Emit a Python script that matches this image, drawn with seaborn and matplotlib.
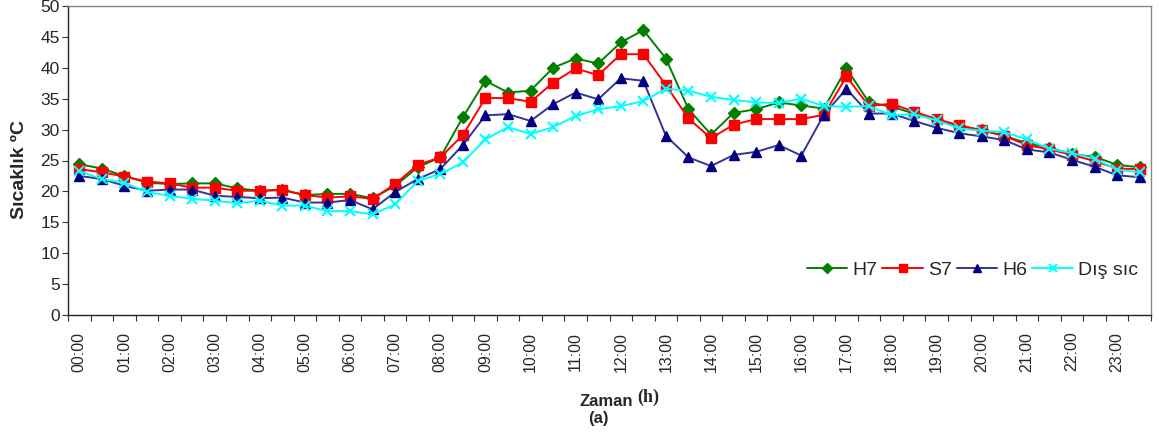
import matplotlib
matplotlib.use("Agg")
import matplotlib.pyplot as plt
from matplotlib import font_manager
import seaborn as sns
import pandas as pd
import numpy as np

times = [f"{h:02d}:{m:02d}" for h in range(24) for m in (0, 30)]
tick_labels = [f"{h:02d}:00" for h in range(24)]

h7 = [24.4, 23.7, 22.5, 21.4, 21.2, 21.3, 21.3, 20.5, 20.1, 20.3, 19.4, 19.6, 19.6, 18.9, 20.9,
      23.9, 25.5, 32.0, 37.9, 36.0, 36.3, 40.0, 41.5, 40.7, 44.1, 46.1, 41.5, 33.3, 29.2, 32.7,
      33.3, 34.4, 33.9, 33.4, 39.9, 34.4, 33.7, 32.6, 31.6, 30.6, 29.9, 29.0, 27.8, 27.1, 26.0,
      25.6, 24.3, 23.9]
s7 = [23.6, 23.1, 22.4, 21.6, 21.3, 20.6, 20.6, 20.1, 20.1, 20.2, 19.4, 19.0, 19.2, 18.8, 21.2,
      24.3, 25.5, 29.1, 35.1, 35.1, 34.5, 37.6, 39.9, 38.8, 42.2, 42.2, 37.2, 31.8, 28.6, 30.8,
      31.7, 31.7, 31.7, 32.4, 38.6, 33.8, 34.2, 32.9, 31.7, 30.7, 29.9, 29.0, 27.5, 26.8, 25.9,
      24.9, 23.7, 23.6]
h6 = [22.5, 22.0, 20.9, 20.1, 20.3, 20.3, 19.3, 19.1, 18.9, 19.0, 18.2, 18.2, 18.6, 17.1, 19.9,
      22.0, 23.6, 27.5, 32.3, 32.5, 31.4, 34.1, 36.0, 34.9, 38.3, 37.9, 29.0, 25.5, 24.1, 25.9,
      26.4, 27.5, 25.8, 32.4, 36.6, 32.6, 32.6, 31.4, 30.3, 29.4, 28.9, 28.3, 26.8, 26.3, 25.1,
      24.0, 22.6, 22.3]
dis = [23.3, 22.0, 21.4, 19.9, 19.3, 18.8, 18.5, 18.1, 18.5, 17.7, 17.7, 16.8, 16.8, 16.3, 17.9,
       21.7, 22.8, 24.7, 28.4, 30.4, 29.3, 30.4, 32.2, 33.3, 33.8, 34.6, 36.6, 36.3, 35.3, 34.8,
       34.4, 34.3, 35.0, 33.8, 33.7, 33.8, 32.3, 32.5, 31.5, 30.2, 29.8, 29.6, 28.4, 26.9, 26.2,
       25.3, 23.5, 23.1]

series_names = ["H7", "S7", "H6", "Dış sıc"]
series_values = [h7, s7, h6, dis]

sns.set_theme(style="white")
avail = {f.name for f in font_manager.fontManager.ttflist}
narrow = "Liberation Sans Narrow" if "Liberation Sans Narrow" in avail else "Liberation Sans"
plt.rcParams["font.family"] = ["Liberation Sans", "DejaVu Sans"]

fig = plt.figure(figsize=(11.59, 4.46), dpi=100)
ax = fig.add_axes([68 / 1159, 1 - 315 / 446, 1083 / 1159, 309 / 446])

styles = {
    "H7": dict(color="#008000", marker="D", markersize=6.5, mfc="#008000", mec="#008000"),
    "S7": dict(color="#FF0000", marker="s", markersize=7, mfc="#FF0000", mec="#FF0000"),
    "H6": dict(color="#333399", marker="^", markersize=7.5, mfc="#000080", mec="#000080"),
    "Dış sıc": dict(color="#00FFFF", marker="x", markersize=7.5, mfc="#00FFFF", mec="#00FFFF",
                    markeredgewidth=1.5),
}

rows = []
for name, vals in zip(series_names, series_values):
    for i, (t, v) in enumerate(zip(times, vals)):
        rows.append({"idx": i, "Zaman": t, "Sıcaklık": v, "Seri": name})
df = pd.DataFrame(rows)

for name in series_names:
    st = styles[name]
    sub = df[df["Seri"] == name]
    sns.lineplot(data=sub, x="idx", y="Sıcaklık", ax=ax, label=name,
                 color=st["color"], marker=st["marker"], markersize=st["markersize"],
                 markerfacecolor=st["mfc"], markeredgecolor=st["mec"],
                 markeredgewidth=st.get("markeredgewidth", 1.0), linewidth=1.4,
                 errorbar=None, sort=False)

ax.set_xlim(-0.5, len(times) - 0.5)
ax.set_ylim(0, 50)
ax.set_yticks(np.arange(0, 51, 5))
ax.set_yticklabels([str(v) for v in range(0, 51, 5)], fontsize=12.5, family=narrow)
ax.set_xticks(np.arange(0, len(times), 2))
ax.set_xticklabels(tick_labels, rotation=90, fontsize=11.5, family="Liberation Sans")
ax.set_xticks(np.arange(-0.5, len(times) + 0.5, 1), minor=True)
ax.tick_params(axis="x", which="major", length=0, pad=12)
ax.tick_params(axis="x", which="minor", length=4, width=0.8, color="#333333", direction="out", bottom=True)
ax.tick_params(axis="y", which="major", length=4, width=0.8, color="#333333", direction="out", left=True, pad=2)

for side in ["left", "bottom"]:
    ax.spines[side].set_color("#222222")
    ax.spines[side].set_linewidth(1.0)
for side in ["top", "right"]:
    ax.spines[side].set_color("#888888")
    ax.spines[side].set_linewidth(1.0)
ax.grid(False)

ax.set_ylabel("Sıcaklık ºC", fontsize=14, fontweight="bold", family=narrow)
ax.yaxis.set_label_coords(-0.037, 0.47)
ax.set_xlabel("Zaman", fontsize=12, fontweight="bold", family=narrow)
ax.xaxis.set_label_coords(0.497, -0.255)
fig.text(648 / 1159, 1 - 397 / 446, "(h)", fontsize=13, fontweight="bold",
         family="Liberation Serif", ha="center", va="center")
fig.text(598 / 1159, 1 - 419 / 446, "(a)", fontsize=12, fontweight="bold",
         family=narrow, ha="center", va="center")

leg = ax.legend(loc="center right", bbox_to_anchor=(0.995, 0.146), ncol=4, frameon=False,
                prop={"family": narrow, "size": 14}, handlelength=2.1, handletextpad=0.25,
                columnspacing=0.25, markerscale=0.8, borderaxespad=0)

fig.savefig("out.png", dpi=100)
